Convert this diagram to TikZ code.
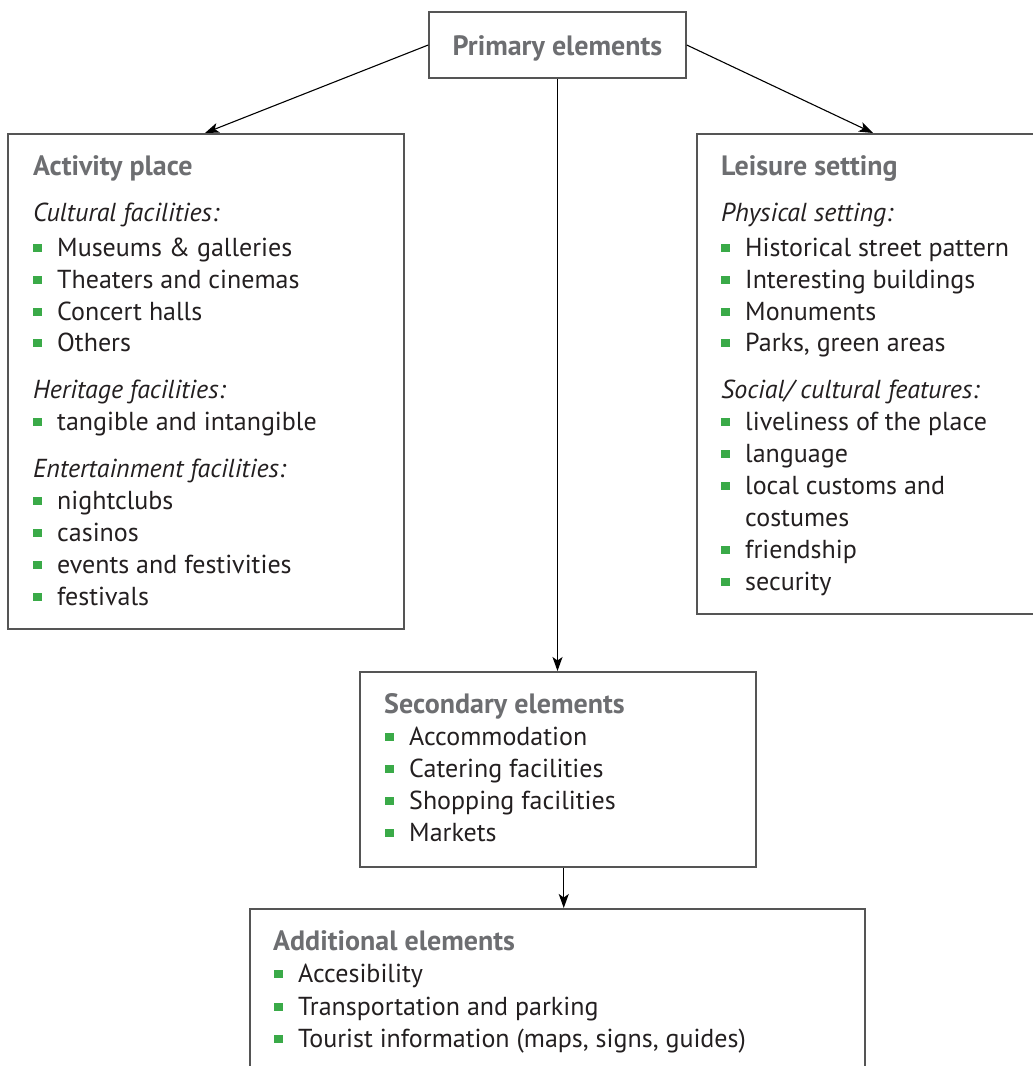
\documentclass[tikz,border=0pt]{standalone}
\usepackage{fontspec}
\setmainfont{PT Sans}
\usetikzlibrary{arrows.meta}
\definecolor{hgray}{HTML}{6D6E71}
\definecolor{tblack}{HTML}{231F20}
\definecolor{bgreen}{HTML}{3AAA48}
\definecolor{bordergray}{HTML}{555555}
\newcommand{\bul}{\textcolor{bgreen}{\rule[4pt]{8.5pt}{8.5pt}}\hspace{15.5pt}}
\tikzset{
  box/.style={draw=bordergray, line width=1.5pt, inner sep=0pt, anchor=north west},
  head/.style={anchor=base west, inner sep=0pt, font=\fontsize{28}{32}\selectfont\bfseries, text=hgray},
  sub/.style={anchor=base west, inner sep=0pt, font=\fontsize{26}{32}\selectfont\itshape, text=tblack},
  item/.style={anchor=base west, inner sep=0pt, font=\fontsize{26}{32}\selectfont, text=tblack},
  conn/.style={-{Stealth[length=14pt,width=10pt,inset=3.5pt]}, line width=1.1pt, black},
}
\begin{document}
\begin{tikzpicture}[x=1pt,y=-1pt]
\useasboundingbox (0,0) rectangle (1033,1066);
% boxes
\node[draw=bordergray, line width=1.5pt, minimum width=257pt, minimum height=66pt, inner sep=0pt,
      text height=20pt, text depth=0pt, font=\fontsize{28}{32}\selectfont\bfseries, text=hgray]
      (prim) at (557.5,45) {Primary elements};
\node[box, minimum width=396pt, minimum height=495pt] (act) at (7,133) {};
\node[box, minimum width=400pt, minimum height=480pt] (leis) at (696,133) {};
\node[box, minimum width=396pt, minimum height=195pt] (sec) at (359,671) {};
\node[box, minimum width=615pt, minimum height=200pt] (add) at (249,908) {};
% connectors
\draw[conn] (prim.west) -- ([xshift=198pt]act.north west);
\draw[conn] (prim.east) -- ([xshift=177pt]leis.north west);
\draw[conn] (prim.south) -- (prim.south |- sec.north);
\draw[conn] ([xshift=6pt]sec.south) -- ([xshift=6pt]sec.south |- add.north);
% Activity place
\node[head] (a0) at (33,175) {Activity place};
\node[sub]  (a1) at (33,221) {Cultural facilities:};
\node[item] (a2) at (33,256) {\bul Museums \& galleries};
\node[item] (a3) at (33,288) {\bul Theaters and cinemas};
\node[item] (a4) at (33,320) {\bul Concert halls};
\node[item] (a5) at (33,351) {\bul Others};
\node[sub]  (a6) at (33,398) {Heritage facilities:};
\node[item] (a7) at (33,430) {\bul tangible and intangible};
\node[sub]  (a8) at (33,477) {Entertainment facilities:};
\node[item] (a9) at (33,509) {\bul nightclubs};
\node[item] (a10) at (33,541) {\bul casinos};
\node[item] (a11) at (33,573) {\bul events and festivities};
\node[item] (a12) at (33,605) {\bul festivals};
% Leisure setting
\node[head] (l0) at (721,175) {Leisure setting};
\node[sub]  (l1) at (721,221) {Physical setting:};
\node[item] (l2) at (721,256) {\bul Historical street pattern};
\node[item] (l3) at (721,288) {\bul Interesting buildings};
\node[item] (l4) at (721,320) {\bul Monuments};
\node[item] (l5) at (721,351) {\bul Parks, green areas};
\node[sub]  (l6) at (721,398) {Social/ cultural features:};
\node[item] (l7) at (721,430) {\bul liveliness of the place};
\node[item] (l8) at (721,462) {\bul language};
\node[item] (l9) at (721,494) {\bul local customs and};
\node[item] (l10) at (745,526) {costumes};
\node[item] (l11) at (721,558) {\bul friendship};
\node[item] (l12) at (721,590) {\bul security};
% Secondary
\node[head] (s0) at (384,713) {Secondary elements};
\node[item] (s1) at (385,745) {\bul Accommodation};
\node[item] (s2) at (385,777) {\bul Catering facilities};
\node[item] (s3) at (385,809) {\bul Shopping facilities};
\node[item] (s4) at (385,841) {\bul Markets};
% Additional
\node[head] (d0) at (273,950) {Additional elements};
\node[item] (d1) at (274,982) {\bul Accesibility};
\node[item] (d2) at (274,1015) {\bul Transportation and parking};
\node[item] (d3) at (274,1047) {\bul Tourist information (maps, signs, guides)};
\end{tikzpicture}
\end{document}
